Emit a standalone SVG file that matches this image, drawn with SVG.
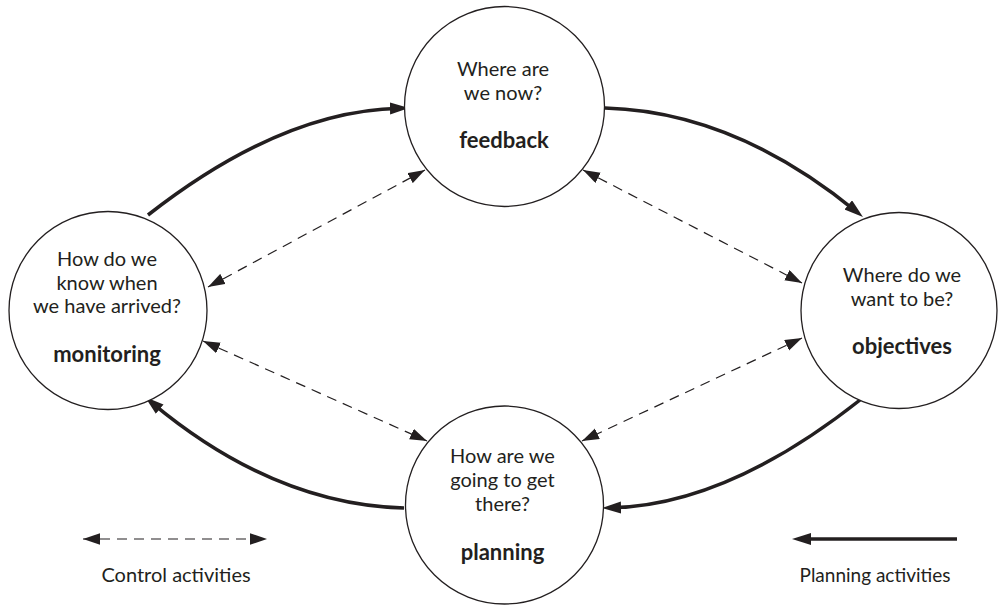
<svg xmlns="http://www.w3.org/2000/svg" width="1000" height="606" viewBox="0 0 1000 606">
<style>
  .node circle { fill: #ffffff; stroke: #231f20; stroke-width: 1.3; }
  text { font-family: Lato, "Liberation Sans", sans-serif; fill: #231f20; text-anchor: middle; }
  .q { font-size: 20px; }
  .b { font-size: 22px; font-weight: bold; }
  .lg { font-size: 20px; }
  .lg2 { font-size: 19px; }
  .solid { fill: none; stroke: #231f20; stroke-width: 3.5; marker-end: url(#headSolid); }
  .dash { fill: none; stroke: #231f20; stroke-width: 1.2; stroke-dasharray: 10 7; marker-start: url(#headDash); marker-end: url(#headDash); }
</style>
<defs>
  <marker id="headSolid" markerUnits="userSpaceOnUse" markerWidth="22" markerHeight="14" refX="10" refY="6" orient="auto">
    <path d="M0,0 L19,6 L0,12 z" fill="#231f20"/>
  </marker>
  <marker id="headDash" markerUnits="userSpaceOnUse" markerWidth="18" markerHeight="12" refX="17" refY="5.75" orient="auto-start-reverse">
    <path d="M0,0 L17,5.75 L0,11.5 z" fill="#231f20"/>
  </marker>
</defs>
<rect width="1000" height="606" fill="#ffffff"/>

<g id="connectors">
  <path class="solid" d="M148,215 Q281.5,110.5 400,108.2"/>
  <path class="solid" d="M605,108 Q734,111.5 856,211.3"/>
  <path class="solid" d="M860,400 Q726.5,505.5 611,507.8"/>
  <path class="solid" d="M404,508 Q274,504.5 152,402.8"/>
  <path class="dash" d="M208,287 L425,170"/>
  <path class="dash" d="M583,170 L802,283"/>
  <path class="dash" d="M203,341 L427,441"/>
  <path class="dash" d="M802,338 L582,441"/>
</g>

<g id="node-feedback" class="node">
  <circle cx="504.5" cy="106.5" r="100"/>
  <text class="q" x="503" y="76">Where are</text>
  <text class="q" x="503" y="100">we now?</text>
  <text class="b" x="504" y="147.5">feedback</text>
</g>
<g id="node-monitoring" class="node">
  <circle cx="108" cy="310.5" r="99"/>
  <text class="q" x="107" y="266">How do we</text>
  <text class="q" x="107" y="290">know when</text>
  <text class="q" x="107" y="313">we have arrived?</text>
  <text class="b" x="107" y="362">monitoring</text>
</g>
<g id="node-objectives" class="node">
  <circle cx="899" cy="310.5" r="98"/>
  <text class="q" x="902" y="282">Where do we</text>
  <text class="q" x="902" y="305.5">want to be?</text>
  <text class="b" x="902" y="354">objectives</text>
</g>
<g id="node-planning" class="node">
  <circle cx="504.5" cy="505" r="99"/>
  <text class="q" x="502.5" y="463">How are we</text>
  <text class="q" x="502.5" y="487">going to get</text>
  <text class="q" x="502.5" y="511">there?</text>
  <text class="b" x="502.5" y="560">planning</text>
</g>

<g id="legend">
  <path class="dash" d="M83,539 L267,539"/>
  <text class="lg" x="176" y="582">Control activities</text>
  <path class="solid" d="M957,539 L801,539"/>
  <text class="lg2" x="875" y="582">Planning activities</text>
</g>
</svg>
